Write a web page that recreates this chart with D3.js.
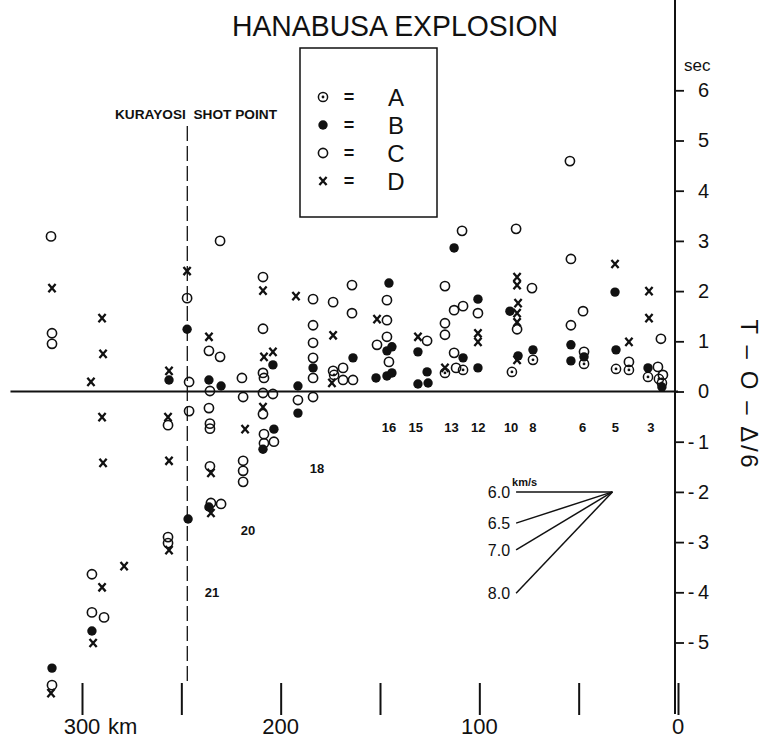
<!DOCTYPE html>
<html>
<head>
<meta charset="utf-8">
<script src="https://cdn.jsdelivr.net/npm/d3@7"></script>
<style>
  html, body { margin: 0; padding: 0; background: #fff; }
  svg { display: block; }
  text { font-family: "Liberation Sans", Arial, Helvetica, sans-serif; fill: #111; }
</style>
</head>
<body>
<svg id="chart" width="763" height="739"></svg>
<script>
// ---------------- DATA ----------------
// [distance km, T - O - Δ/6 (sec)]
const seriesA = [
  [173.1, 0.33], [117.3, 0.37], [108.2, 0.43], [83.6, 0.39], [73.0, 0.63],
  [47.3, 0.55], [31.2, 0.45], [24.7, 0.43], [15.1, 0.29], [9.6, 0.25], [8.1, 0.17]
];
const seriesB = [
  [247.1, 1.24], [256.2, 0.23], [236.1, 0.23], [230.0, 0.11], [246.6, -2.54],
  [236.1, -2.30], [295.0, -4.77], [315.1, -5.51], [203.9, 0.53], [191.3, 0.11],
  [191.3, -0.43], [183.7, 0.47], [163.6, 0.67], [152.0, 0.27], [146.5, 0.31],
  [145.5, 2.16], [146.5, 0.81], [144.0, 0.89], [144.0, 0.37], [203.4, -0.75],
  [208.9, -1.15], [112.7, 2.86], [130.9, 0.79], [126.3, 0.39], [130.9, 0.15],
  [125.8, 0.17], [108.2, 0.67], [100.7, 1.84], [100.7, 0.47], [84.6, 1.60],
  [80.5, 0.71], [73.0, 0.83], [53.9, 0.93], [53.9, 0.61], [47.3, 0.69],
  [31.7, 1.98], [31.2, 0.83], [15.1, 0.47], [8.1, 0.09]
];
const seriesC = [
  [315.6, 3.09], [315.1, 1.16], [315.1, 0.95], [230.5, 3.00], [247.1, 1.86],
  [236.1, 0.81], [230.5, 0.69], [246.1, 0.19], [235.6, 0.01], [219.5, 0.27],
  [218.9, -0.11], [236.1, -0.33], [246.1, -0.39], [256.7, -0.67], [235.6, -0.64],
  [235.6, -0.74], [235.6, -1.49], [218.9, -1.38], [218.9, -1.58], [218.9, -1.80],
  [235.1, -2.22], [230.0, -2.24], [256.7, -2.90], [256.7, -3.02], [295.0, -3.64],
  [295.0, -4.40], [288.9, -4.50], [315.1, -5.85], [208.9, 2.28], [208.9, 1.25],
  [208.9, 0.37], [208.4, 0.27], [208.9, -0.03], [203.9, -0.05], [208.9, -0.45],
  [208.4, -0.85], [203.4, -1.00], [208.4, -1.03], [183.7, 1.84], [173.6, 1.78],
  [164.1, 2.12], [164.1, 1.56], [183.7, 1.32], [183.7, 0.97], [183.7, 0.67],
  [183.7, 0.27], [191.3, -0.17], [183.7, -0.11], [173.6, 0.41], [168.6, 0.47],
  [168.6, 0.23], [163.6, 0.23], [151.5, 0.93], [146.5, 1.42], [146.5, 1.82],
  [146.5, 1.09], [145.5, 0.59], [108.7, 3.20], [117.3, 2.10], [117.3, 1.36],
  [117.3, 1.13], [112.7, 1.62], [108.2, 1.70], [126.3, 1.01], [112.7, 0.77],
  [111.7, 0.47], [81.5, 3.24], [100.7, 1.56], [73.5, 2.06], [81.0, 1.24],
  [54.4, 4.59], [53.9, 2.64], [47.8, 1.60], [53.9, 1.32], [47.3, 0.79],
  [24.7, 0.59], [8.6, 1.05], [10.1, 0.49], [7.6, 0.33]
];
const seriesD = [
  [315.1, 2.06], [289.9, 1.46], [289.4, 0.75], [295.5, 0.19], [247.1, 2.40],
  [236.1, 1.09], [256.2, 0.41], [289.9, -0.51], [256.7, -0.51], [217.9, -0.75],
  [289.4, -1.42], [256.2, -1.38], [235.1, -1.62], [235.1, -2.42], [256.2, -3.16],
  [278.8, -3.48], [289.9, -3.90], [294.4, -5.01], [315.6, -6.01], [208.9, 2.01],
  [208.4, 0.69], [203.9, 0.79], [208.9, -0.31], [192.3, 1.90], [173.6, 1.12],
  [174.2, 0.17], [151.5, 1.44], [130.9, 1.09], [117.3, 0.47], [100.7, 1.16],
  [100.7, 0.99], [81.0, 2.28], [81.0, 2.12], [80.5, 1.76], [81.0, 1.56],
  [81.0, 1.38], [81.0, 0.63], [31.7, 2.54], [24.7, 0.99], [14.6, 2.00], [14.6, 1.46]
];

const legendKeys = ["A", "B", "C", "D"];

const xTicks = [0, 50, 100, 150, 200, 250, 300];
const xTickLabels = ["0", "", "100", "", "200", "", "300"];
const yTicks = [-5, -4, -3, -2, -1, 0, 1, 2, 3, 4, 5, 6];

const stationNames = ["16", "15", "13", "12", "10", "8", "6", "5", "3", "18", "20", "21"];
const stationDist  = [145.5, 132.0, 114.0, 100.5, 84.0, 73.0, 48.0, 31.5, 13.6, 181.7, 216.4, 234.6];
const stationTime  = [-0.7, -0.7, -0.7, -0.7, -0.7, -0.7, -0.7, -0.7, -0.7, -1.53, -2.76, -4.0];

const shotPointDist = 247;
const fanVelocities = [6.0, 6.5, 7.0, 8.0];
const fanOrigin = [33.0, -2.0];
const fanLength = 48.5;

// ---------------- CHART ----------------
const svg = d3.select("#chart");
const x = d3.scaleLinear().domain([0, 300]).range([678, 82]);
const y = d3.scaleLinear().domain([0, 6]).range([391.5, 90.3]);

// title
svg.append("text").attr("x", 395).attr("y", 36).attr("text-anchor", "middle")
  .attr("font-size", 29).attr("textLength", 326).attr("lengthAdjust", "spacingAndGlyphs")
  .text("HANABUSA EXPLOSION");

// zero line
svg.append("line").attr("x1", x(336)).attr("x2", x(0)).attr("y1", y(0)).attr("y2", y(0))
  .attr("stroke", "#111").attr("stroke-width", 2);

// y axis (right)
const yAxis = d3.axisRight(y).tickValues(yTicks).tickSize(9).tickPadding(14)
  .tickFormat(d => Math.abs(d));
const yg = svg.append("g").attr("transform", `translate(${x(0) - 3},0)`).call(yAxis);
yg.select(".domain").remove();
yg.selectAll(".tick line").attr("stroke", "#111").attr("stroke-width", 1.8);
yg.selectAll(".tick text").attr("font-size", 20).attr("fill", "#111")
  .attr("font-family", "Liberation Sans, Arial, sans-serif");
yg.selectAll(".tick").filter(d => d < 0).append("text")
  .attr("x", 16).attr("dy", "0.32em").attr("font-size", 20).attr("fill", "#111")
  .attr("font-family", "Liberation Sans, Arial, sans-serif").attr("text-anchor", "middle")
  .text("-");
svg.append("line").attr("x1", x(0) - 3).attr("x2", x(0) - 3).attr("y1", 0).attr("y2", 714)
  .attr("stroke", "#111").attr("stroke-width", 2);
svg.append("text").attr("x", 684).attr("y", 71).attr("font-size", 17).text("sec");

// right axis title
svg.append("text").attr("transform", `translate(741,${y(0) + 2}) rotate(90)`)
  .attr("text-anchor", "middle").attr("font-size", 24)
  .attr("textLength", 148).attr("lengthAdjust", "spacing")
  .text("T – O – Δ/6");

// bottom ticks
const xg = svg.append("g").attr("transform", "translate(0,683)")
  .call(d3.axisBottom(x).tickValues(xTicks).tickSize(32).tickFormat(""));
xg.select(".domain").remove();
xg.selectAll(".tick line").attr("stroke", "#111").attr("stroke-width", 2);
svg.selectAll(".xlab").data(xTicks.filter((d, i) => xTickLabels[i] !== ""))
  .join("text").attr("class", "xlab")
  .attr("x", d => x(d)).attr("y", 734).attr("text-anchor", "middle").attr("font-size", 22)
  .text(d => xTickLabels[xTicks.indexOf(d)]);
svg.append("text").attr("x", x(300) + 26).attr("y", 734).attr("font-size", 22).text("km");

// shot point
svg.append("line").attr("x1", x(shotPointDist)).attr("x2", x(shotPointDist))
  .attr("y1", 126).attr("y2", 686).attr("stroke", "#111").attr("stroke-width", 1.3)
  .attr("stroke-dasharray", "15,5");
svg.append("text").attr("x", 115).attr("y", 119).attr("font-size", 13).attr("font-weight", "bold")
  .attr("textLength", 162).attr("lengthAdjust", "spacingAndGlyphs")
  .text("KURAYOSI\u00a0\u00a0SHOT POINT");

// station labels
svg.selectAll(".st").data(stationNames).join("text").attr("class", "st")
  .attr("x", (d, i) => x(stationDist[i])).attr("y", (d, i) => y(stationTime[i]) + 5)
  .attr("text-anchor", "middle").attr("font-size", 13).attr("font-weight", "bold")
  .text(d => d);

// velocity fan
const fanG = svg.append("g");
fanVelocities.forEach(v => {
  const d1 = fanOrigin[0] + fanLength;
  const t1 = fanOrigin[1] + fanLength * (1 / v - 1 / 6);
  fanG.append("line").attr("x1", x(fanOrigin[0])).attr("y1", y(fanOrigin[1]))
    .attr("x2", x(d1)).attr("y2", y(t1)).attr("stroke", "#111").attr("stroke-width", 1.5);
  fanG.append("text").attr("x", x(d1) - 6).attr("y", y(t1) + 6).attr("text-anchor", "end")
    .attr("font-size", 16).text(v.toFixed(1));
});
fanG.append("text").attr("x", x(fanOrigin[0] + fanLength) - 4).attr("y", y(fanOrigin[1]) - 6)
  .attr("font-size", 11).attr("font-weight", "bold").text("km/s");

// symbols
function drawSym(g, type, cx, cy) {
  if (type === "A") {
    g.append("circle").attr("cx", cx).attr("cy", cy).attr("r", 4.6)
      .attr("fill", "none").attr("stroke", "#111").attr("stroke-width", 1.5);
    g.append("circle").attr("cx", cx).attr("cy", cy).attr("r", 1.4).attr("fill", "#111");
  } else if (type === "B") {
    g.append("circle").attr("cx", cx).attr("cy", cy).attr("r", 4.7).attr("fill", "#111");
  } else if (type === "C") {
    g.append("circle").attr("cx", cx).attr("cy", cy).attr("r", 4.6)
      .attr("fill", "none").attr("stroke", "#111").attr("stroke-width", 1.6);
  } else {
    const s = 3.6;
    g.append("path").attr("d", `M${cx - s},${cy - s - 0.5}L${cx + s},${cy + s + 0.5}M${cx + s},${cy - s - 0.5}L${cx - s},${cy + s + 0.5}`)
      .attr("stroke", "#111").attr("stroke-width", 2.3).attr("fill", "none");
  }
}
const pts = svg.append("g");
[["C", seriesC], ["A", seriesA], ["B", seriesB], ["D", seriesD]].forEach(([k, data]) => {
  data.forEach(p => drawSym(pts, k, x(p[0]), y(p[1])));
});

// legend
const lg = svg.append("g");
lg.append("rect").attr("x", 300).attr("y", 48).attr("width", 137).attr("height", 169)
  .attr("fill", "none").attr("stroke", "#111").attr("stroke-width", 1.5);
legendKeys.forEach((k, i) => {
  const cy = 97 + i * 28;
  drawSym(lg, k, 323, cy);
  lg.append("text").attr("x", 349).attr("y", cy + 6).attr("text-anchor", "middle")
    .attr("font-size", 18).attr("font-weight", "bold").text("=");
  lg.append("text").attr("x", 396).attr("y", cy + 8.5).attr("text-anchor", "middle")
    .attr("font-size", 24).text(k);
});
</script>
</body>
</html>
